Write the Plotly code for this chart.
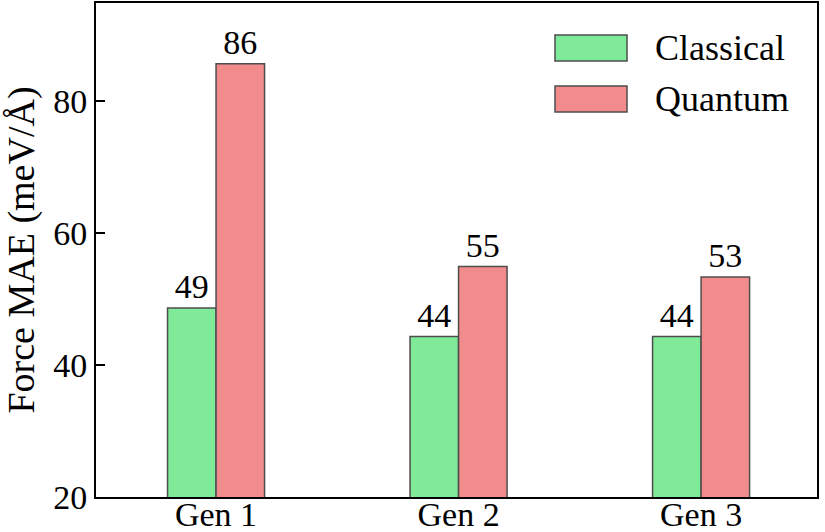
import plotly.graph_objects as go

categories = ["Gen 1", "Gen 2", "Gen 3"]
classical = [48.6, 44.3, 44.3]
quantum = [85.6, 54.9, 53.3]
series_names = ["Classical", "Quantum"]
y_ticks = [20, 40, 60, 80]

GREEN = "#7FEB99"
RED = "#F28C8C"
EDGE = "#4d4d4d"
FONT = "'Liberation Serif', 'Times New Roman', 'DejaVu Serif', serif"

fig = go.Figure()
for name, vals, col in [(series_names[0], classical, GREEN), (series_names[1], quantum, RED)]:
    fig.add_trace(go.Bar(
        x=categories, y=vals, name=name,
        marker=dict(color=col, line=dict(color=EDGE, width=1.5)),
        texttemplate="%{y:.0f}", textposition="outside",
        textfont=dict(family=FONT, size=34, color="black"),
        cliponaxis=False, showlegend=False,
    ))

# manual legend (large patches like matplotlib)
for i, (name, col) in enumerate([(series_names[0], GREEN), (series_names[1], RED)]):
    y0 = 35 + i * 51
    fig.add_shape(type="rect", xref="paper", yref="paper",
                  x0=(555 - 96) / 721, x1=(627 - 96) / 721,
                  y0=1 - (y0 + 26 - 3) / 494, y1=1 - (y0 - 3) / 494,
                  fillcolor=col, line=dict(color=EDGE, width=1.5))
    fig.add_annotation(xref="paper", yref="paper",
                       x=(653 - 96) / 721, y=1 - (y0 + 13 - 3) / 494,
                       text=name, showarrow=False, xanchor="left", yanchor="middle",
                       font=dict(family=FONT, size=36, color="black"))

fig.update_layout(
    width=825, height=532,
    margin=dict(l=96, r=8, t=3, b=35),
    paper_bgcolor="white", plot_bgcolor="white",
    barmode="group", bargap=0.6, bargroupgap=0,
    font=dict(family=FONT, size=34, color="black"),
    xaxis=dict(range=[-0.495, 2.478], showline=True, linecolor="black", linewidth=2,
               mirror=True, ticks="", showgrid=False, automargin=False,
               ticklabelstandoff=-14,
               tickfont=dict(family=FONT, size=34, color="black")),
    yaxis=dict(range=[20, 94.8], tickvals=y_ticks, showline=True, linecolor="black",
               linewidth=2, mirror=True, ticks="inside", ticklen=9, tickwidth=2,
               tickcolor="black", showgrid=False, zeroline=False, automargin=False,
               tickfont=dict(family=FONT, size=34, color="black"),
               title=dict(text="Force MAE (meV/Å)", standoff=10,
                          font=dict(family=FONT, size=38, color="black"))),
)

fig.write_html("out.html")
